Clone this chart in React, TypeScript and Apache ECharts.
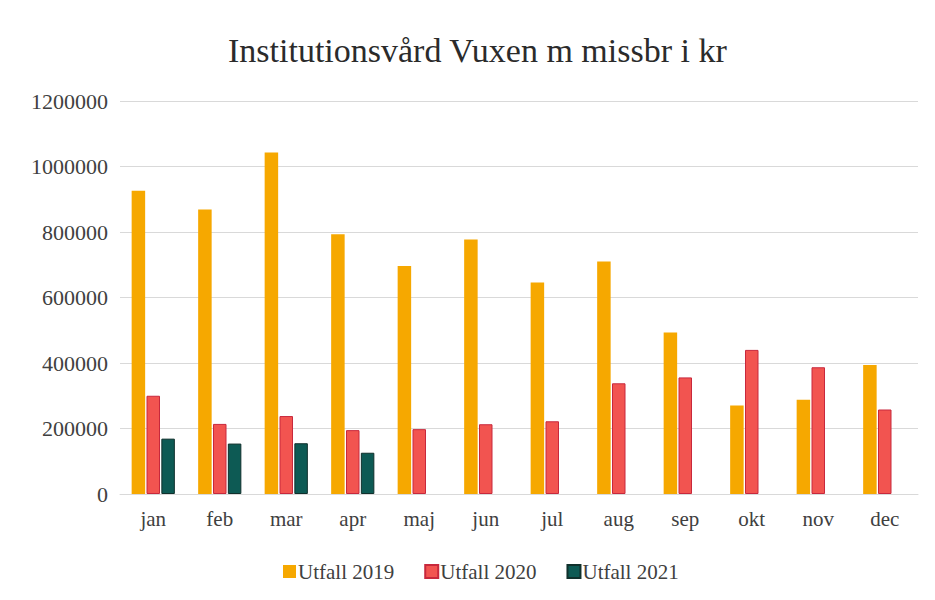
import React, { useEffect, useRef } from "react";
import * as echarts from "echarts";

const months = ["jan", "feb", "mar", "apr", "maj", "jun", "jul", "aug", "sep", "okt", "nov", "dec"];
const utfall2019 = [926000, 869000, 1043000, 793000, 696000, 777000, 646000, 710000, 493000, 270000, 288000, 394000];
const utfall2020 = [300000, 214000, 238000, 195000, 198000, 213000, 222000, 338000, 356000, 440000, 387000, 258000];
const utfall2021 = [169000, 154000, 155000, 126000, null, null, null, null, null, null, null, null];
const yTicks = { min: 0, max: 1200000, interval: 200000 };

const FONT = "'Liberation Serif', 'DejaVu Serif', serif";

export default function App() {
  const ref = useRef<HTMLDivElement>(null);
  useEffect(() => {
    document.body.style.margin = "0";
    const chart = echarts.init(ref.current!, undefined, { renderer: "svg" });
    chart.setOption({
      animation: false,
      backgroundColor: "#ffffff",
      title: {
        text: "Institutionsvård Vuxen m missbr i kr",
        left: 223,
        top: 28,
        textStyle: { fontFamily: FONT, fontSize: 34, fontWeight: "normal", color: "#2b2b2b" },
      },
      legend: {
        bottom: 13,
        left: 278,
        itemWidth: 13,
        itemHeight: 13,
        itemGap: 30,
        icon: "rect",
        textStyle: { fontFamily: FONT, fontSize: 21, color: "#404040", padding: [0, 0, 0, -3] },
        data: ["Utfall 2019", "Utfall 2020", "Utfall 2021"],
      },
      grid: { left: 120, right: 17, top: 101, bottom: 106 },
      xAxis: {
        type: "category",
        data: months,
        axisLine: { lineStyle: { color: "#d9d9d9" } },
        axisTick: { show: false },
        axisLabel: { fontFamily: FONT, fontSize: 21, color: "#404040", margin: 14 },
      },
      yAxis: {
        type: "value",
        min: yTicks.min,
        max: yTicks.max,
        interval: yTicks.interval,
        axisLine: { show: false },
        axisTick: { show: false },
        splitLine: { lineStyle: { color: "#d9d9d9" } },
        axisLabel: {
          fontFamily: FONT,
          fontSize: 22,
          color: "#404040",
          margin: 12,
          formatter: (v: number) => String(v),
        },
      },
      series: [
        {
          name: "Utfall 2019",
          type: "bar",
          data: utfall2019,
          barWidth: 13.5,
          barGap: "10%",
          itemStyle: { color: "#F6A800" },
        },
        {
          name: "Utfall 2020",
          type: "bar",
          data: utfall2020,
          barWidth: 13.5,
          barGap: "10%",
          itemStyle: { color: "#F25450", borderColor: "#C8283C", borderWidth: 1 },
        },
        {
          name: "Utfall 2021",
          type: "bar",
          data: utfall2021,
          barWidth: 13.5,
          barGap: "10%",
          itemStyle: { color: "#0D5A54", borderColor: "#10302c", borderWidth: 1 },
        },
      ],
    });
    return () => chart.dispose();
  }, []);
  return <div ref={ref} style={{ width: 935, height: 600 }} />;
}
